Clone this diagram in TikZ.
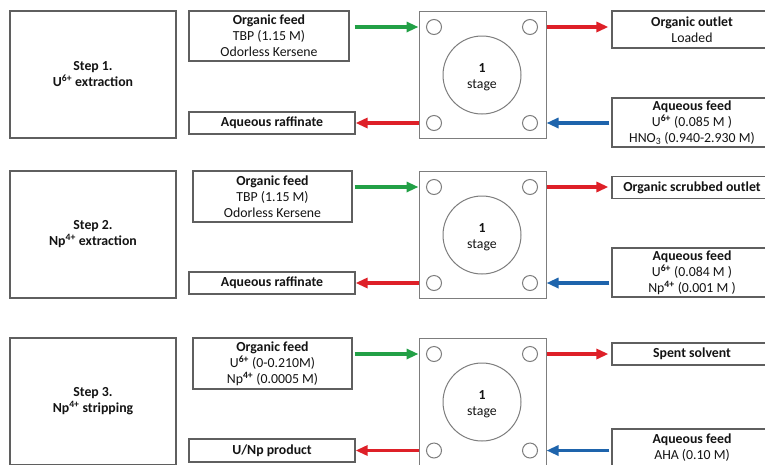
\documentclass[tikz,border=0pt]{standalone}
\usepackage{fontspec}
\setmainfont{Carlito}
\usetikzlibrary{arrows.meta}
\definecolor{boxgray}{RGB}{95,95,95}
\definecolor{sqgray}{RGB}{125,125,125}
\definecolor{txt}{RGB}{20,20,20}
\definecolor{gar}{RGB}{34,160,70}
\definecolor{rar}{RGB}{222,32,40}
\definecolor{bar}{RGB}{30,100,172}
\newcommand\fsz{\fontsize{13.8}{16}\selectfont}
\newcommand\bsup[1]{\textsuperscript{\textbf{#1}}}
\tikzset{
  box/.style={draw=boxgray, line width=1.2pt, fill=white, inner sep=0pt, align=center, font=\fsz, text=txt},
  stepbox/.style={box, font=\fsz\bfseries},
  squarebox/.style={draw=sqgray, line width=1pt, fill=white, inner sep=0pt, minimum width=127pt, minimum height=127pt},
  port/.style={circle, draw=sqgray, line width=1pt, inner sep=0pt, minimum size=15pt},
  stagec/.style={circle, draw=sqgray, line width=1pt, inner sep=0pt, minimum size=78pt},
  stagetext/.style={align=center, font=\fsz, text=txt, inner sep=0pt},
  flow/.style={line width=3.2pt, -{Triangle[length=12pt,width=10pt]}},
  garrow/.style={flow, gar},
  rarrow/.style={flow, rar},
  barrow/.style={flow, bar},
}
\begin{document}
\begin{tikzpicture}[x=1pt, y=-1pt]
\useasboundingbox (0,0) rectangle (765,464);
\clip (0,0) rectangle (765,464);

% ---------- Row 1 ----------
\node[stepbox, minimum width=166pt, minimum height=127pt] (step1) at (93,74.5) {Step 1.\\U\textsuperscript{6+} extraction};
\node[box, minimum width=160pt, minimum height=50pt] (of1) at (269,36) {\textbf{Organic feed}\\TBP (1.15 M)\\Odorless Kersene};
\node[box, minimum width=166pt, minimum height=22pt] (ar1) at (272,123) {\textbf{Aqueous raffinate}};
\node[squarebox] (sq1) at (482.5,74.5) {};
\node[port] (tl1) at (434,27) {};
\node[port] (tr1) at (530,27) {};
\node[port] (bl1) at (434,123) {};
\node[port] (br1) at (530,123) {};
\node[stagec] (st1) at (482,75) {};
\node[stagetext] (st1t) at ([yshift=-2pt]st1.center) {\textbf{1}\\stage};
\node[box, minimum width=160pt, minimum height=37pt] (oo1) at (692,29.5) {\textbf{Organic outlet}\\Loaded};
\node[box, minimum width=160pt, minimum height=49pt] (af1) at (692,122.5) {\textbf{Aqueous feed}\\U\bsup{6+} (0.085 M )\\HNO\textsubscript{3} (0.940-2.930 M)};
\draw[garrow] ([xshift=5pt]of1.east |- tl1) -- (sq1.west |- tl1);
\draw[rarrow] (sq1.east |- tr1) -- ([xshift=-3pt]oo1.west |- tr1);
\draw[barrow] ([xshift=-2pt]af1.west |- br1) -- (sq1.east |- br1);
\draw[rarrow] (sq1.west |- bl1) -- (ar1.east);

% ---------- Row 2 ----------
\node[stepbox, minimum width=166pt, minimum height=127pt] (step2) at (93,234.5) {Step 2.\\Np\textsuperscript{4+} extraction};
\node[box, minimum width=159pt, minimum height=51pt] (of2) at (272.5,196.5) {\textbf{Organic feed}\\TBP (1.15 M)\\Odorless Kersene};
\node[box, minimum width=166pt, minimum height=22pt] (ar2) at (272,283) {\textbf{Aqueous raffinate}};
\node[squarebox] (sq2) at (482.5,234.5) {};
\node[port] (tl2) at (434,187) {};
\node[port] (tr2) at (530,187) {};
\node[port] (bl2) at (434,283) {};
\node[port] (br2) at (530,283) {};
\node[stagec] (st2) at (482,235) {};
\node[stagetext] (st2t) at ([yshift=-2pt]st2.center) {\textbf{1}\\stage};
\node[box, minimum width=160pt, minimum height=22pt] (oo2) at (692,187.5) {\textbf{Organic scrubbed outlet}};
\node[box, minimum width=160pt, minimum height=49pt] (af2) at (692,272.5) {\textbf{Aqueous feed}\\U\bsup{6+} (0.084 M )\\Np\bsup{4+} (0.001 M )};
\draw[garrow] ([xshift=2pt]of2.east |- tl2) -- (sq2.west |- tl2);
\draw[rarrow] (sq2.east |- tr2) -- ([xshift=-3pt]oo2.west |- tr2);
\draw[barrow] ([xshift=-2pt]af2.west |- br2) -- (sq2.east |- br2);
\draw[rarrow] (sq2.west |- bl2) -- (ar2.east);

% ---------- Row 3 ----------
\node[stepbox, minimum width=166pt, minimum height=127pt] (step3) at (93,401.5) {Step 3.\\Np\textsuperscript{4+} stripping};
\node[box, minimum width=159pt, minimum height=51pt] (of3) at (272.5,363.5) {\textbf{Organic feed}\\U\bsup{6+} (0-0.210M)\\Np\bsup{4+} (0.0005 M)};
\node[box, minimum width=166pt, minimum height=23pt] (ar3) at (272,450.5) {\textbf{U/Np product}};
\node[squarebox] (sq3) at (482.5,401.5) {};
\node[port] (tl3) at (434,354) {};
\node[port] (tr3) at (530,354) {};
\node[port] (bl3) at (434,450.5) {};
\node[port] (br3) at (530,450.5) {};
\node[stagec] (st3) at (482,402) {};
\node[stagetext] (st3t) at ([yshift=-2pt]st3.center) {\textbf{1}\\stage};
\node[box, minimum width=160pt, minimum height=22pt] (ss3) at (692,354) {\textbf{Spent solvent}};
\node[box, minimum width=160pt, minimum height=37pt] (af3) at (692,447.5) {\textbf{Aqueous feed}\\AHA (0.10 M)};
\draw[garrow] ([xshift=2pt]of3.east |- tl3) -- (sq3.west |- tl3);
\draw[rarrow] (sq3.east |- tr3) -- ([xshift=-3pt]ss3.west |- tr3);
\draw[barrow] ([xshift=-2pt]af3.west |- br3) -- (sq3.east |- br3);
\draw[rarrow] (sq3.west |- bl3) -- (ar3.east);
\end{tikzpicture}
\end{document}
